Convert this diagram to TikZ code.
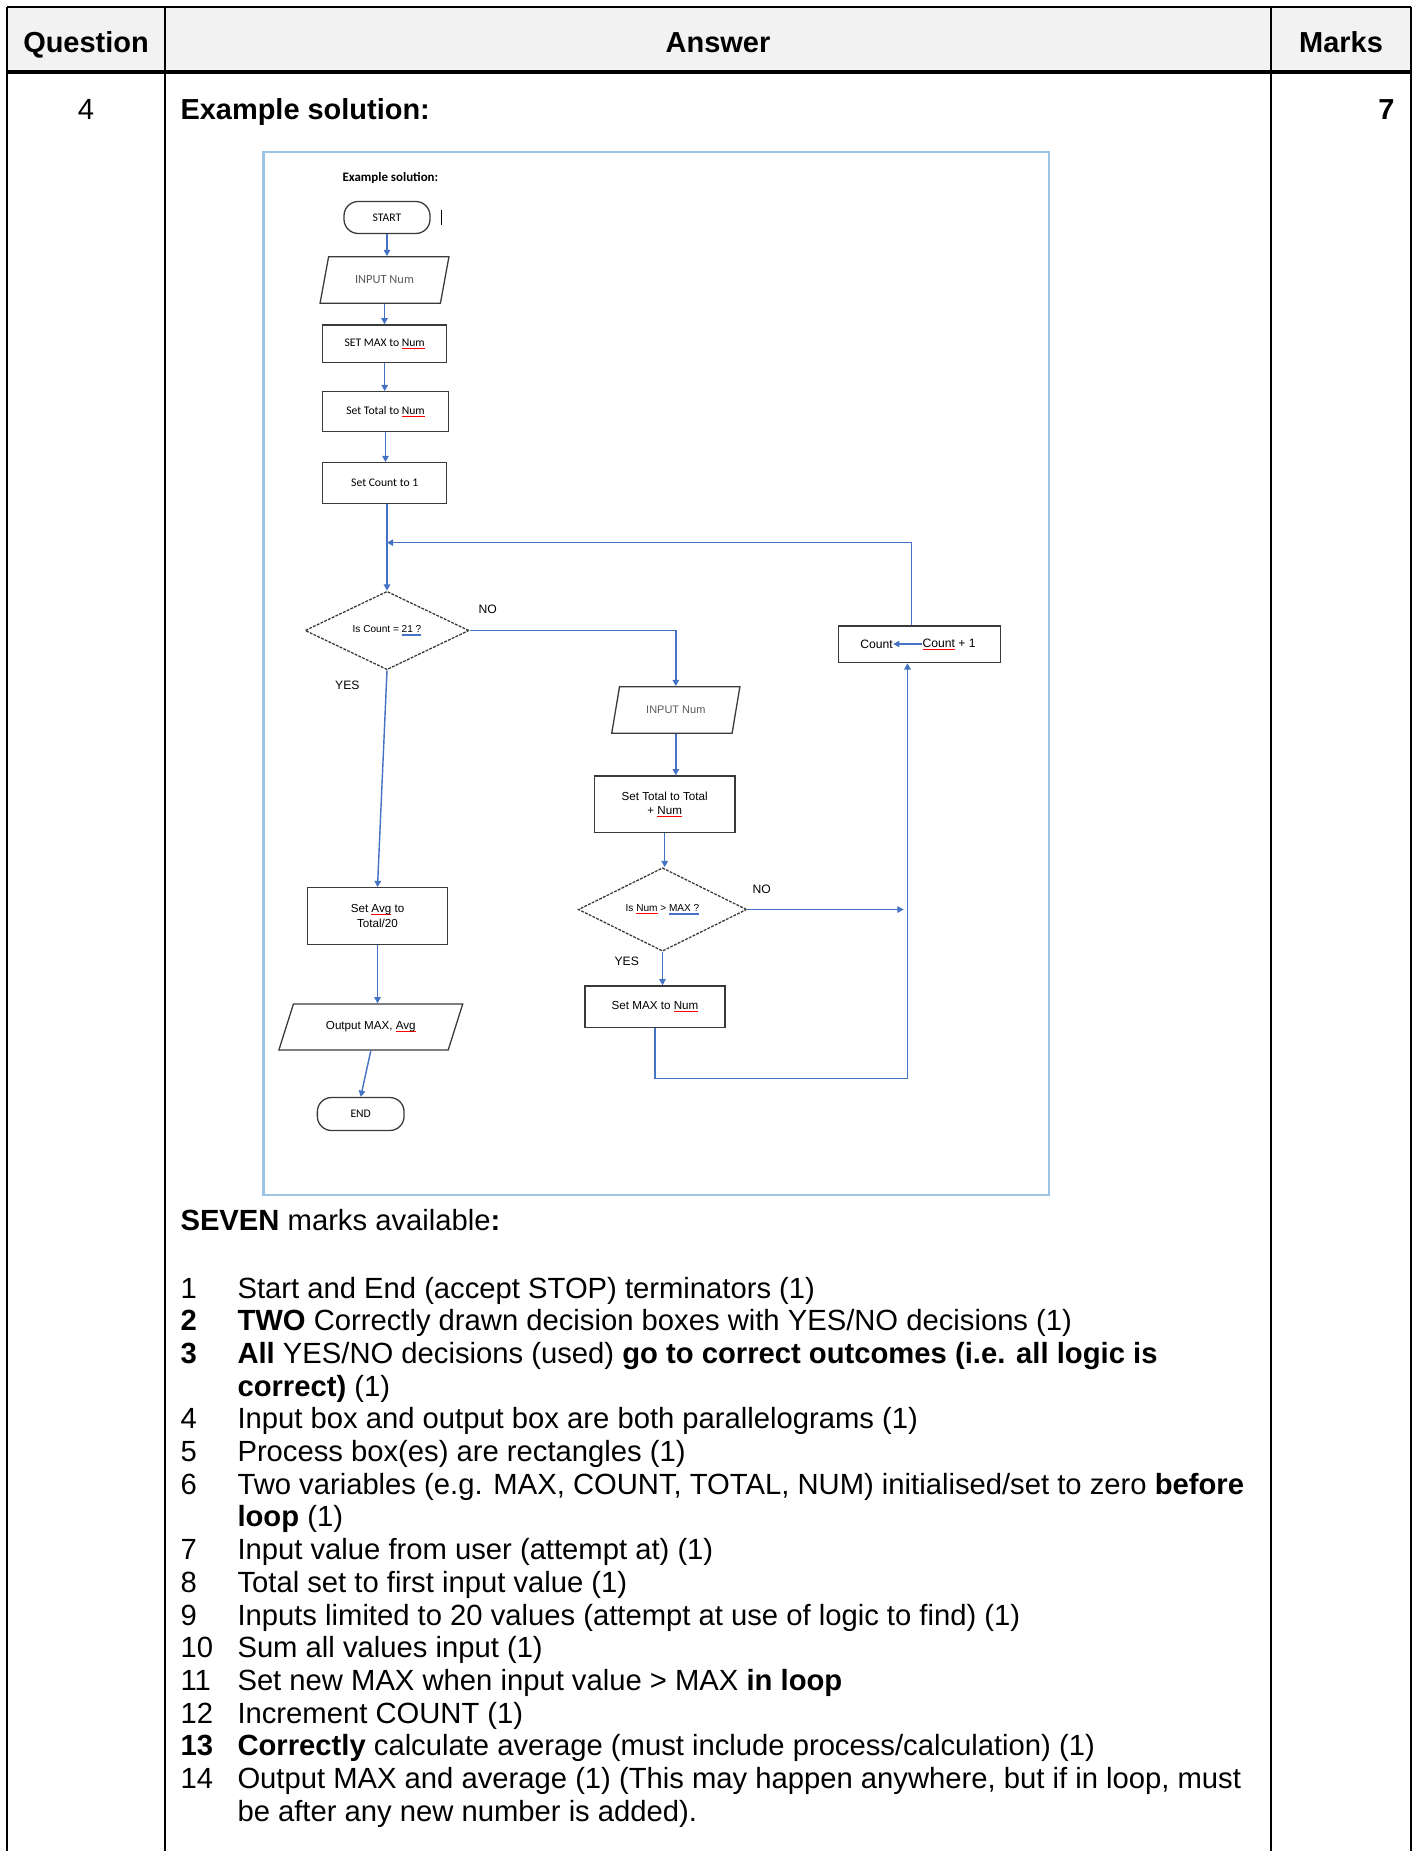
\documentclass[tikz,border=0pt]{standalone}
\usepackage{fontspec}
\setmainfont{Liberation Sans}
\newfontfamily\calfont{Carlito}
\usetikzlibrary{shapes.geometric,arrows.meta,calc}

\definecolor{flowblue}{HTML}{4472C4}
\definecolor{frameblue}{HTML}{9DC3E6}
\definecolor{headgrey}{HTML}{F2F2F2}
\definecolor{boxgrey}{HTML}{3A3A3A}

\def\pxu{0.3868pt}

\newlength{\marklen}
\newcommand{\spellmark}[1]{\settowidth{\marklen}{#1}%
	\rlap{\textcolor{red}{\rule[-0.7pt]{\marklen}{0.22pt}}}#1}
\newcommand{\grammark}[1]{\settowidth{\marklen}{#1}%
	\rlap{\textcolor{flowblue}{\rule[-0.6pt]{\marklen}{0.18pt}}}%
	\rlap{\textcolor{flowblue}{\rule[-1.05pt]{\marklen}{0.18pt}}}#1}

\begin{document}
\begin{tikzpicture}[
	x=\pxu, y=-\pxu,
	tablerule/.style={line width=0.9pt},
	headrule/.style={line width=1.5pt},
	celltext/.style={inner sep=0pt, font=\fontsize{11.3}{13}\selectfont},
	headtext/.style={inner sep=0pt, font=\bfseries\fontsize{11.2}{13}\selectfont},
	boxsize/.style 2 args={minimum width=#1*\pxu, minimum height=#2*\pxu},
	shapebox/.style={draw=boxgrey, line width=0.5pt, inner sep=0pt, align=center,
		font=\fontsize{4.5}{5.6}\selectfont},
	calbox/.style={font=\calfont\fontsize{4.5}{5.5}\selectfont},
	procbox/.style={shapebox, rectangle},
	termbox/.style={shapebox, rectangle, rounded corners=5.5pt, calbox},
	iobox/.style={shapebox, trapezium, trapezium stretches=true},
	decbox/.style={shapebox, diamond, dash pattern=on 1.1pt off 0.5pt,
		font=\fontsize{3.9}{5}\selectfont},
	yesno/.style={inner sep=0pt, font=\fontsize{4.7}{5.5}\selectfont},
	flowarrow/.style={draw=flowblue, line width=0.55pt,
		-{Triangle[length=2.4pt,width=2.5pt]}},
]

% page %{{{1

	\useasboundingbox (0,0) rectangle (1417,1851);

% table grid %{{{1

	\fill[headgrey] (7,7) rectangle (1411,72);

	\draw[tablerule] (7,7) -- (1411,7);
	\draw[headrule] (7,72) -- (1411,72);

	\draw[tablerule] (7,7) -- (7,1851);
	\draw[tablerule] (165,7) -- (165,1851);
	\draw[tablerule] (1271,7) -- (1271,1851);
	\draw[tablerule] (1411,7) -- (1411,1851);

% table texts %{{{1

	\node[headtext, anchor=base] (hq) at (86,52.9) {Question};
	\node[headtext, anchor=base] (ha) at (718,52.9) {Answer};
	\node[headtext, anchor=base] (hm) at (1341,52.9) {Marks};

	\node[celltext, anchor=base] (qnum) at (86,119.2) {4};
	\node[headtext, anchor=base west] (qhead) at (180,119.5) {Example solution:};
	\node[headtext, anchor=base east] (qmark) at (1395,119.2) {7};

	\node[celltext, anchor=base west] (avail) at (180,1230)
		{\textbf{SEVEN} marks available\textbf{:}};

	\foreach \k/\num/\crit in {
		0/1/{Start and End (accept STOP) terminators (1)},
		1/\textbf{2}/{\textbf{TWO} Correctly drawn decision boxes with YES/NO decisions (1)},
		2/\textbf{3}/{\textbf{All} YES/NO decisions (used) \textbf{go to correct outcomes (i.e. all logic is}},
		3//{\textbf{correct)} (1)},
		4/4/{Input box and output box are both parallelograms (1)},
		5/5/{Process box(es) are rectangles (1)},
		6/6/{Two variables (e.g. MAX, COUNT, TOTAL, NUM) initialised/set to zero \textbf{before}},
		7//{\textbf{loop} (1)},
		8/7/{Input value from user (attempt at) (1)},
		9/8/{Total set to first input value (1)},
		10/9/{Inputs limited to 20 values (attempt at use of logic to find) (1)},
		11/10/{Sum all values input (1)},
		12/11/{Set new MAX when input value > MAX \textbf{in loop}},
		13/12/{Increment COUNT (1)},
		14/\textbf{13}/{\textbf{Correctly} calculate average (must include process/calculation) (1)},
		15/14/{Output MAX and average (1) (This may happen anywhere, but if in loop, must},
		16//{be after any new number is added).}
	}{
		\node[celltext, anchor=base west] (num\k) at (180,1298+32.7*\k) {\num};
		\node[celltext, anchor=base west] (crit\k) at (237,1298+32.7*\k) {\crit};
	}

% pasted flowchart frame %{{{1

	\draw[frameblue, line width=0.8pt] (263.5,152) rectangle (1049,1195);

	\node[inner sep=0pt, anchor=west, font=\calfont\bfseries\fontsize{5}{6}\selectfont]
		(fhead) at (342,178) {Example solution:};

% flowchart boxes %{{{1

	\node[termbox, boxsize={86}{32}] (start) at (387,217.5) {START};
	\node[iobox, boxsize={129}{46.6}, trapezium left angle=60.8,
		trapezium right angle=119.2, text=black!65, font=\calfont\fontsize{4.8}{5.5}\selectfont]
		(in1) at (384.5,280) {INPUT Num};
	\node[procbox, boxsize={124}{37.7}, calbox]
		(setmax) at (384.7,343.8) {SET MAX to \spellmark{Num}};
	\node[procbox, boxsize={125.6}{40}, calbox]
		(settot) at (385.5,411.7) {Set Total to \spellmark{Num}};
	\node[procbox, boxsize={124}{40.6}, calbox]
		(setcnt) at (384.7,483) {Set Count to 1};

	\node[decbox, boxsize={164}{77.6}] (dec1) at (387,630.5) {Is Count = \grammark{21 ?}};

	\node[iobox, boxsize={128.3}{46.6}, trapezium left angle=61.8,
		trapezium right angle=118.2, text=black!65, font=\fontsize{4.25}{5}\selectfont]
		(in2) at (675.8,710) {INPUT Num};
	\node[procbox, boxsize={140.7}{56.3}] (addtot) at (664.7,804)
		{Set Total to Total\\+ \spellmark{Num}};
	\node[decbox, boxsize={168.4}{77.6}] (dec2) at (662.5,909.5)
		{Is \spellmark{Num} > \grammark{MAX ?}};
	\node[procbox, boxsize={140}{41.7}] (newmax) at (655,1006.8) {Set MAX to \spellmark{Num}};

	\node[procbox, boxsize={162.4}{36.7}] (inc) at (919.5,644.3) {};
	\node[yesno] (incl) at (876.5,644) {Count};
	\node[yesno] (incr) at (949,644) {\spellmark{Count} + 1};

	\node[procbox, boxsize={140.4}{56.6}] (avg) at (377.5,916)
		{Set \spellmark{Avg} to\\Total/20};
	\node[iobox, boxsize={184.4}{46}, trapezium left angle=51.4,
		trapezium right angle=128.6] (out) at (370.8,1027) {Output MAX, \spellmark{Avg}};
	\node[termbox, boxsize={86.7}{33}] (endn) at (360.7,1114) {END};

% decision labels %{{{1

	\node[yesno] (no1) at (487.7,609) {NO};
	\node[yesno] (yes1) at (347.3,685) {YES};
	\node[yesno] (no2) at (761.7,889.3) {NO};
	\node[yesno] (yes2) at (626.7,961.7) {YES};

% coordinates %{{{1

	\coordinate (loopin) at ($(dec1.north)+(0,-48)$);
	\coordinate (looptop) at ($(inc.north)+(-8,0)$);
	\coordinate (rail) at ($(inc.south)+(-12,0)$);

% connectors %{{{1

	\draw[flowarrow] (start.south) -- (start.south |- in1.north);
	\draw[flowarrow] (in1.south) -- (in1.south |- setmax.north);
	\draw[flowarrow] (setmax.south) -- (setmax.south |- settot.north);
	\draw[flowarrow] (settot.south) -- (settot.south |- setcnt.north);
	\draw[flowarrow] (setcnt.south -| dec1.north) -- (dec1.north);

	\draw[flowarrow] (dec1.east) -| (in2.north);
	\draw[flowarrow] (in2.south) -- (in2.south |- addtot.north);
	\draw[flowarrow] (addtot.south) -- (addtot.south |- dec2.north);
	\draw[flowarrow] (dec2.south) -- (dec2.south |- newmax.north);
	\draw[flowarrow, shorten >=1.5pt] (dec2.east) -- (dec2.east -| rail);
	\draw[flowarrow] (newmax.south) -- ++(0,50) -| (rail);

	\draw[flowarrow] (looptop) |- (loopin);
	\draw[flowarrow, line width=0.4pt] (incr.west) -- (incl.east);

	\draw[flowarrow] (dec1.south) -- (avg.north);
	\draw[flowarrow] (avg.south) -- (avg.south |- out.north);
	\draw[flowarrow] (out.south) -- (endn.north);

% cursor mark %{{{1

	\draw[line width=0.4pt] ($(start.east)+(11,-7)$) -- ++(0,15);

% closing %{{{1

\end{tikzpicture}
\end{document}
